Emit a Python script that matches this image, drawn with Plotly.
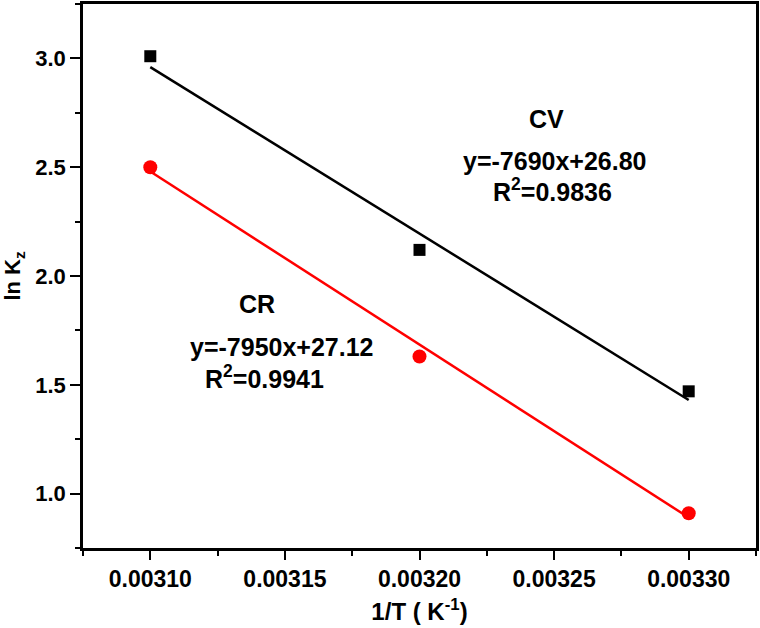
"""Arrhenius-type plot of ln Kz against 1/T for CV and CR."""

import plotly.graph_objects as go

# data
inv_t = [0.00310, 0.00320, 0.00330]
cv_lnk = [3.01, 2.12, 1.47]
cr_lnk = [2.50, 1.63, 0.91]

# fitted lines (end values)
fit_x = [0.00310, 0.00330]
cv_fit = [2.96, 1.43]
cr_fit = [2.48, 0.89]

x_ticks = [0.00310, 0.00315, 0.00320, 0.00325, 0.00330]
x_tick_labels = ["0.00310", "0.00315", "0.00320", "0.00325", "0.00330"]
y_ticks = [1.0, 1.5, 2.0, 2.5, 3.0]
y_tick_labels = ["1.0", "1.5", "2.0", "2.5", "3.0"]

FONT = "Arial, Liberation Sans, sans-serif"

fig = go.Figure()

fig.add_trace(go.Scatter(
    x=fit_x, y=cv_fit, mode="lines",
    line={"color": "black", "width": 2.5}, name="CV fit",
))
fig.add_trace(go.Scatter(
    x=fit_x, y=cr_fit, mode="lines",
    line={"color": "#ff0000", "width": 2.5}, name="CR fit",
))
fig.add_trace(go.Scatter(
    x=inv_t, y=cv_lnk, mode="markers",
    marker={"symbol": "square", "size": 12, "color": "black"}, name="CV",
))
fig.add_trace(go.Scatter(
    x=inv_t, y=cr_lnk, mode="markers",
    marker={"symbol": "circle", "size": 14, "color": "#ff0000"}, name="CR",
))

label_font = {"family": FONT, "size": 25, "color": "black"}


def label(text, x, y):
    return {
        "text": f"<b>{text}</b>", "xref": "paper", "yref": "paper",
        "x": x, "y": y, "xanchor": "center", "yanchor": "middle",
        "showarrow": False, "font": label_font,
    }


fig.update_layout(
    width=760,
    height=628,
    template="plotly_white",
    plot_bgcolor="white",
    paper_bgcolor="white",
    showlegend=False,
    margin={"t": 4, "b": 80, "l": 83, "r": 4, "pad": 0},
    font={"family": FONT, "color": "black"},
    annotations=[
        label("CV", 0.689, 0.789),
        label("y=-7690x+26.80", 0.701, 0.711),
        label("R<sup>2</sup>=0.9836", 0.697, 0.658),
        label("CR", 0.259, 0.449),
        label("y=-7950x+27.12", 0.296, 0.369),
        label("R<sup>2</sup>=0.9941", 0.270, 0.314),
    ],
)

fig.update_xaxes(
    range=[0.003075, 0.003325],
    automargin=False,
    tickvals=x_ticks, ticktext=[f"<b>{t}</b>" for t in x_tick_labels],
    tickfont={"family": FONT, "size": 23, "color": "black"},
    ticks="outside", ticklen=9, tickwidth=2, tickcolor="black",
    minor={"ticks": "outside", "ticklen": 5, "tickwidth": 2, "tickcolor": "black",
           "dtick": 0.000025, "tick0": 0.003075, "showgrid": False},
    showline=True, linewidth=2.5, linecolor="black", mirror=True,
    showgrid=False, zeroline=False,
    title={"text": "<b>1/T ( K<sup>-1</sup>)</b>", "standoff": 12,
           "font": {"family": FONT, "size": 24, "color": "black"}},
)

fig.update_yaxes(
    range=[0.75, 3.25],
    automargin=False,
    tickvals=y_ticks, ticktext=[f"<b>{t}</b>" for t in y_tick_labels],
    tickfont={"family": FONT, "size": 22, "color": "black"},
    ticks="outside", ticklen=10, tickwidth=2, tickcolor="black",
    minor={"ticks": "outside", "ticklen": 5, "tickwidth": 2, "tickcolor": "black",
           "dtick": 0.25, "tick0": 0.75, "showgrid": False},
    showline=True, linewidth=2.5, linecolor="black", mirror=True,
    showgrid=False, zeroline=False,
    title={"text": "<b>ln K<sub>z</sub></b>", "standoff": 16,
           "font": {"family": FONT, "size": 22, "color": "black"}},
)

# drop the default page margin so the figure sits at the window origin
fig.write_html(
    "out.html",
    config={"displayModeBar": False},
    post_script="document.body.style.margin = '0';",
)
